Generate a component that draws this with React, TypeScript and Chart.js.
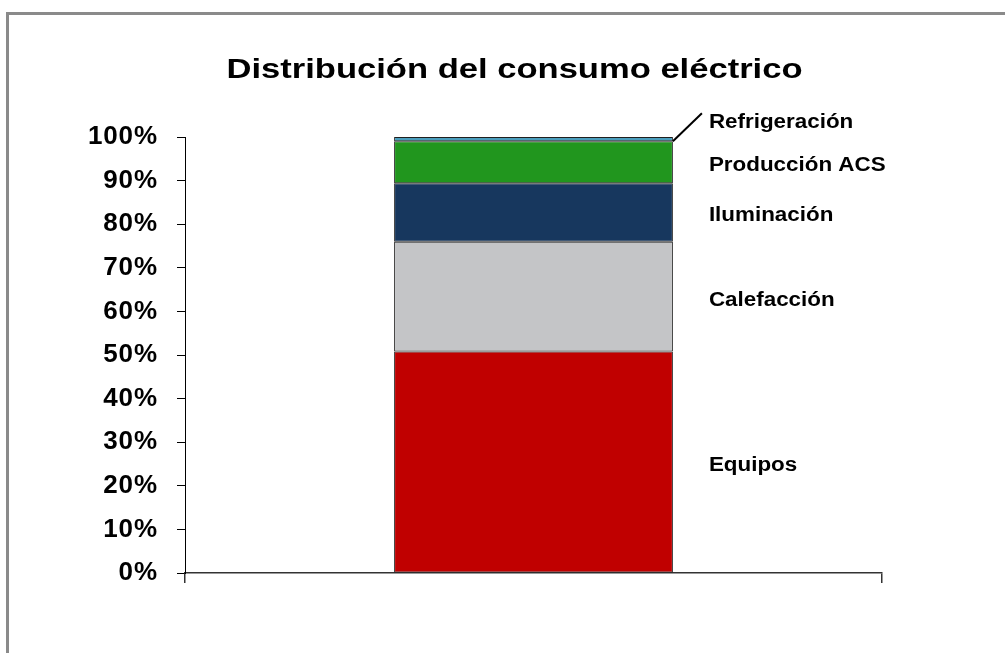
import { useEffect, useRef } from 'react';
import { Chart, registerables } from 'chart.js';

Chart.register(...registerables);

const chartTitle = 'Distribución del consumo eléctrico';
const categories = [''];
const seriesNames = ['Equipos', 'Calefacción', 'Iluminación', 'Producción ACS', 'Refrigeración'];
const equipos = [50.8];
const calefaccion = [25.2];
const iluminacion = [13.4];
const produccionACS = [9.6];
const refrigeracion = [1.0];
const seriesValues = [equipos, calefaccion, iluminacion, produccionACS, refrigeracion];
const seriesColors = ['#C00000', '#C4C5C7', '#17375E', '#21961E', '#4A9EBD'];
const yMin = 0;
const yMax = 100;
const yStep = 10;

const FONT = '"Liberation Sans", Arial, Helvetica, sans-serif';

const excelTextPlugin = {
  id: 'excelText',
  beforeDraw(chart: any) {
    (chart.ctx as any).letterSpacing = '0.8px';
  },
  afterDraw(chart: any) {
    const ctx = chart.ctx as CanvasRenderingContext2D;
    ctx.save();
    (ctx as any).letterSpacing = '0px';
    ctx.fillStyle = '#000000';
    ctx.textBaseline = 'middle';

    // title
    ctx.save();
    ctx.font = `bold 27px ${FONT}`;
    ctx.textAlign = 'center';
    ctx.translate(chart.width / 2 + 12, 71);
    ctx.scale(1.28, 1);
    ctx.fillText(chartTitle, 0, 0);
    ctx.restore();

    // data labels at the right of the bar
    ctx.font = `bold 20px ${FONT}`;
    ctx.textAlign = 'left';
    chart.data.datasets.forEach((ds: any, i: number) => {
      const meta = chart.getDatasetMeta(i);
      const el: any = meta.data[0];
      if (!el) return;
      const props = el.getProps(['x', 'y', 'base', 'width'], true);
      const right = props.x + props.width / 2;
      const centerY = (props.y + props.base) / 2;
      const labelX = right + 36;
      const value = ds.data[0];
      let labelY = centerY + 3.5;
      if (value < 3) {
        labelY = centerY - 17;
        ctx.save();
        ctx.strokeStyle = '#000000';
        ctx.lineWidth = 2;
        ctx.beginPath();
        ctx.moveTo(right, centerY + 2);
        ctx.lineTo(labelX - 7, labelY - 9);
        ctx.stroke();
        ctx.restore();
      }
      ctx.save();
      ctx.translate(labelX, labelY);
      ctx.scale(1.12, 1);
      ctx.fillText(ds.label, 0, 0);
      ctx.restore();
    });
    ctx.restore();
  },
};

export default function App() {
  const canvasRef = useRef<HTMLCanvasElement | null>(null);

  useEffect(() => {
    const canvas = canvasRef.current;
    if (!canvas) return;
    const chart = new Chart(canvas, {
      type: 'bar',
      data: {
        labels: categories,
        datasets: seriesNames.map((name, i) => ({
          label: name,
          data: seriesValues[i],
          backgroundColor: seriesColors[i],
          borderColor: '#1F1F1F',
          borderWidth: 1,
          borderSkipped: false,
          barPercentage: 0.4,
          categoryPercentage: 1,
        })),
      },
      options: {
        responsive: false,
        animation: false,
        devicePixelRatio: 1,
        layout: { padding: { top: 137, right: 123, bottom: 0, left: 0 } },
        plugins: {
          legend: { display: false },
          title: { display: false },
          tooltip: { enabled: false },
        },
        scales: {
          x: {
            type: 'category',
            stacked: true,
            offset: true,
            afterFit: (s: any) => {
              s.height = 80;
            },
            grid: {
              display: true,
              drawOnChartArea: false,
              drawTicks: true,
              tickLength: 10,
              color: '#333333',
              lineWidth: 1.5,
              offset: true,
            },
            border: { display: true, color: '#333333', width: 1.5 },
            ticks: { display: false },
          },
          y: {
            type: 'linear',
            stacked: true,
            min: yMin,
            max: yMax,
            afterFit: (s: any) => {
              s.width = 185;
            },
            grid: {
              display: true,
              drawOnChartArea: false,
              drawTicks: true,
              tickLength: 8,
              color: '#000000',
              lineWidth: 1,
            },
            border: { display: true, color: '#000000', width: 1 },
            ticks: {
              stepSize: yStep,
              padding: 19.2,
              color: '#000000',
              font: { family: FONT, size: 26, weight: 'bold' },
              callback: (v: any) => `${v}%`,
            },
          },
        },
      },
      plugins: [excelTextPlugin],
    } as any);
    return () => chart.destroy();
  }, []);

  return (
    <div style={{ position: 'fixed', left: 0, top: 0, width: 1005, height: 653, background: '#ffffff' }}>
      <div
        style={{
          position: 'absolute',
          left: 6,
          top: 12,
          width: 999,
          height: 641,
          borderLeft: '3px solid #8A8A8A',
          borderTop: '3px solid #8A8A8A',
          boxSizing: 'border-box',
        }}
      />
      <canvas
        ref={canvasRef}
        width={1005}
        height={653}
        style={{ position: 'absolute', left: 0, top: 0, width: 1005, height: 653 }}
      />
    </div>
  );
}
